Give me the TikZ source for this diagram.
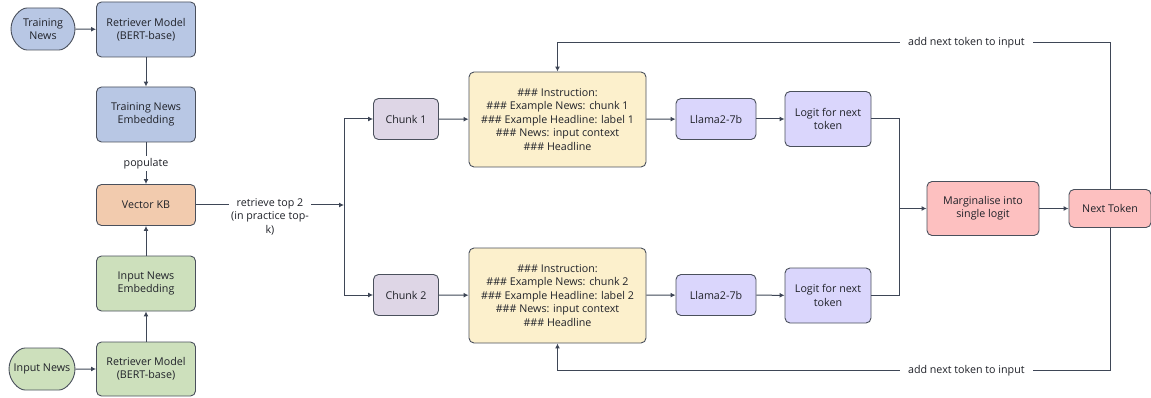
\documentclass[tikz,border=0pt]{standalone}
\usepackage{fontspec}
\setmainfont{Open Sans}
\usetikzlibrary{shapes.misc,arrows.meta,positioning}

\definecolor{edgegray}{HTML}{4A505C}
\definecolor{linegray}{HTML}{3E4656}
\definecolor{textgray}{HTML}{202229}
\definecolor{retblue}{HTML}{B8C7E4}
\definecolor{kborange}{HTML}{F2CBAE}
\definecolor{ingreen}{HTML}{CDE0BC}
\definecolor{chunkpurple}{HTML}{DED6E6}
\definecolor{promptyellow}{HTML}{FCF0CC}
\definecolor{llmlavender}{HTML}{DAD6FC}
\definecolor{outpink}{HTML}{FDC0C0}

\tikzset{
  box/.style={draw=edgegray, line width=0.9pt, rounded corners=5pt, align=center,
    text=textgray, font=\fontsize{10.7}{13.4}\selectfont, inner sep=2pt},
  pill/.style={box, rounded rectangle, minimum width=68pt, minimum height=42pt},
  wide/.style={minimum width=99pt},
  flow/.style={draw=linegray, line width=1pt, -{Latex[length=5pt,width=5pt]}},
  wire/.style={draw=linegray, line width=1pt},
  lbl/.style={fill=white, text=textgray, font=\fontsize{10.7}{13.4}\selectfont, align=center, inner sep=2pt},
}

\begin{document}
\begin{tikzpicture}[x=1pt,y=-1pt]
\useasboundingbox (0,0) rectangle (1151,398);

% retrieval side
\node[pill, fill=retblue] (trnews) at (43,29) {Training\\News};
\node[box, wide, minimum height=55pt, fill=retblue] (rettop) at (146,29.5) {Retriever Model\\(BERT-base)};
\node[box, wide, minimum height=55pt, fill=retblue] (trembed) at (146,114.5) {Training News\\Embedding};
\node[box, wide, minimum height=41pt, fill=kborange] (vkb) at (146,205) {Vector KB};
\node[box, wide, minimum height=55pt, fill=ingreen] (inembed) at (146,283.5) {Input News\\Embedding};
\node[box, wide, minimum height=54pt, fill=ingreen] (retbot) at (146,369) {Retriever Model\\(BERT-base)};
\node[pill, minimum width=70pt, fill=ingreen] (innews) at (42,369) {Input News};

% generation side
\node[box, minimum width=65pt, minimum height=41pt, fill=chunkpurple] (chunk1) at (406,119) {Chunk 1};
\node[box, minimum width=177pt, minimum height=95pt, fill=promptyellow] (prompt1) at (557.5,119.5)
  {\#\#\# Instruction:\\\#\#\# Example News: chunk 1\\\#\#\# Example Headline: label 1\\\#\#\# News: input context\\\#\#\# Headline};
\node[box, minimum width=80pt, minimum height=41pt, fill=llmlavender] (llama1) at (716,119) {Llama2-7b};
\node[box, minimum width=86pt, minimum height=55pt, fill=llmlavender] (logit1) at (828,119) {Logit for next\\token};

\node[box, minimum width=65pt, minimum height=41pt, fill=chunkpurple] (chunk2) at (406,295) {Chunk 2};
\node[box, minimum width=177pt, minimum height=95pt, fill=promptyellow] (prompt2) at (557.5,295.5)
  {\#\#\# Instruction:\\\#\#\# Example News: chunk 2\\\#\#\# Example Headline: label 2\\\#\#\# News: input context\\\#\#\# Headline};
\node[box, minimum width=80pt, minimum height=41pt, fill=llmlavender] (llama2) at (716,295) {Llama2-7b};
\node[box, minimum width=86pt, minimum height=55pt, fill=llmlavender] (logit2) at (828,295.5) {Logit for next\\token};

\node[box, minimum width=112pt, minimum height=54pt, fill=outpink] (marg) at (983,208.5) {Marginalise into\\single logit};
\node[box, minimum width=82pt, minimum height=38pt, fill=outpink] (next) at (1110,208.5) {Next Token};

\coordinate (fork) at (344,205);
\coordinate (merge) at (899,208.5);

\draw[flow] (trnews) -- (rettop);
\draw[flow] (rettop) -- (trembed);
\draw[flow] (trembed) -- node[lbl] {populate} (vkb);
\draw[flow] (innews) -- (retbot);
\draw[flow] (retbot) -- (inembed);
\draw[flow] (inembed) -- (vkb);
\draw[flow] (vkb) -- node[lbl, anchor=north, yshift=9pt] {retrieve top 2\\(in practice top-\\k)} (fork);

\draw[flow] (fork) |- (chunk1);
\draw[flow] (fork) |- (chunk2);
\draw[flow] (chunk1) -- (prompt1);
\draw[flow] (prompt1) -- (llama1);
\draw[flow] (llama1) -- (logit1);
\draw[flow] (chunk2) -- (prompt2);
\draw[flow] (prompt2) -- (llama2);
\draw[flow] (llama2) -- (logit2);

\draw[wire] (logit1) -| (merge);
\draw[wire] (logit2) -| (merge);
\draw[flow] (merge) -- (marg);
\draw[flow] (marg) -- (next);

\draw[flow] (next.north) |- node[lbl, pos=0.63, inner xsep=8pt] {add next token to input} ([yshift=29pt]prompt1.north) -- (prompt1.north);
\draw[flow] (next.south) |- node[lbl, pos=0.63, inner xsep=8pt] {add next token to input} ([yshift=-27pt]prompt2.south) -- (prompt2.south);
\end{tikzpicture}
\end{document}
